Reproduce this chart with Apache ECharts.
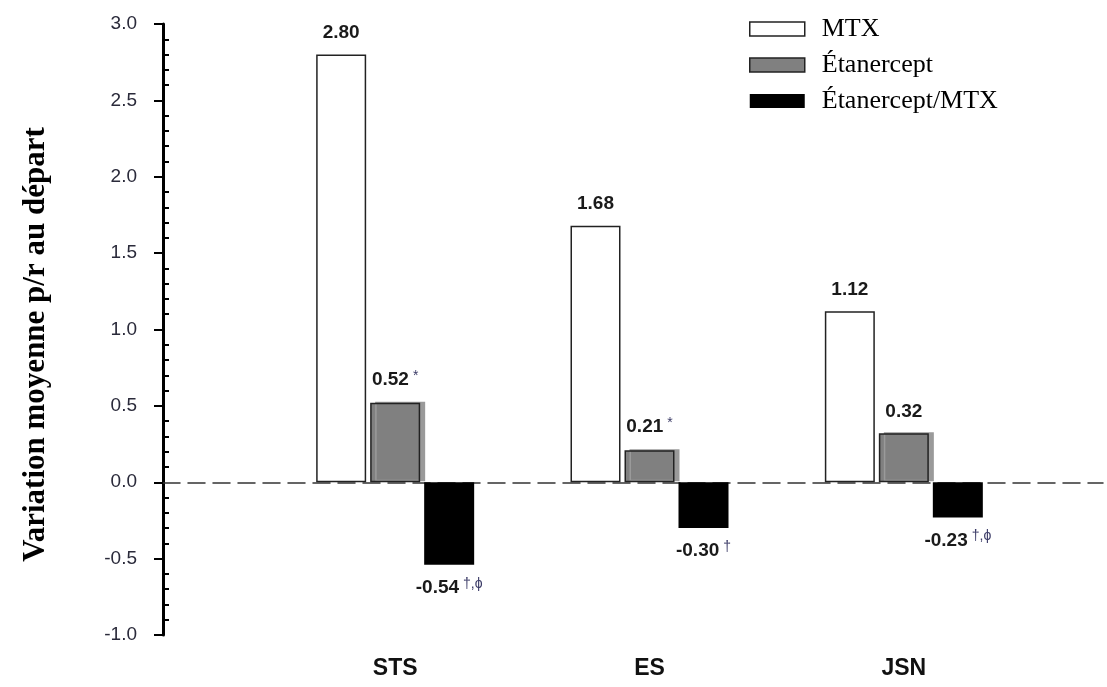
<!DOCTYPE html>
<html lang="fr">
<head>
    <meta charset="UTF-8">
    <title>Variation moyenne</title>
    <script type="text/javascript" src="https://cdn.jsdelivr.net/npm/echarts@6/dist/echarts.min.js"></script>
    <style>
        html, body { margin: 0; padding: 0; background: #fff; }
        #chart { width: 1107px; height: 687px; }
    </style>
</head>
<body>
<div id="chart"></div>
<script type="text/javascript">
    // données
    var categories = ['STS', 'ES', 'JSN'];
    var seriesNames = ['MTX', 'Étanercept', 'Étanercept/MTX'];
    var mtx = [2.80, 1.68, 1.12];
    var etanercept = [0.52, 0.21, 0.32];
    var combo = [-0.54, -0.30, -0.23];
    // exposants affichés après les valeurs
    var etaMarks = ['*', '*', ''];
    var comboMarks = ['†,ϕ', '†', '†,ϕ'];

    var yMin = -1, yMax = 3, yStep = 0.5;

    var labelFont = 'Liberation Sans, Arial, sans-serif';
    var serifFont = 'Liberation Serif, Times New Roman, serif';

    var rich = {
        v: { fontFamily: labelFont, fontWeight: 'bold', fontSize: 19, color: '#1a1a1a' },
        s: { fontFamily: labelFont, fontSize: 14, color: '#3a3a66', verticalAlign: 'top', padding: [0, 0, 8, 4] }
    };

    function fmt(marks) {
        return function (p) {
            var txt = '{v|' + p.value.toFixed(2) + '}';
            if (marks && marks[p.dataIndex]) txt += '{s|' + marks[p.dataIndex] + '}';
            return txt;
        };
    }

    var myChart = echarts.init(document.getElementById('chart'));
    var option = {
        animation: false,
        legend: {
            orient: 'vertical',
            left: 744,
            top: 11,
            itemWidth: 55,
            itemHeight: 14,
            itemGap: 10,
            icon: 'rect',
            textStyle: { fontFamily: serifFont, fontSize: 26, color: '#000', padding: [0, 0, 0, 12] },
            data: [
                { name: seriesNames[0], itemStyle: { color: '#fff', borderColor: '#222', borderWidth: 1.5 } },
                { name: seriesNames[1], itemStyle: { color: '#808080', borderColor: '#222', borderWidth: 1.5 } },
                { name: seriesNames[2], itemStyle: { color: '#000', borderWidth: 0 } }
            ]
        },
        grid: [
            { left: 163, right: 4, top: 24, bottom: 52 },
            { left: 268, right: 76, top: 24, bottom: 52 }
        ],
        xAxis: [
            {
                gridIndex: 0, type: 'value', min: 0, max: 1,
                axisLine: { show: true, onZero: true, lineStyle: { color: '#333', width: 1.5, type: [17, 8] } },
                axisTick: { show: false }, axisLabel: { show: false }, splitLine: { show: false }
            },
            {
                gridIndex: 1, type: 'category', data: categories, position: 'bottom',
                axisLine: { show: false, onZero: false }, axisTick: { show: false },
                axisLabel: { margin: 22, fontFamily: labelFont, fontWeight: 'bold', fontSize: 23, color: '#111' }
            }
        ],
        yAxis: [
            {
                gridIndex: 0, type: 'value', min: yMin, max: yMax, interval: yStep, position: 'left',
                name: 'Variation moyenne p/r au départ', nameLocation: 'middle', nameGap: 112,
                nameTextStyle: { fontFamily: serifFont, fontWeight: 'bold', fontSize: 31, color: '#000',
                    padding: [0, 30, 0, 0] },
                axisLine: { show: true, lineStyle: { color: '#000', width: 3 } },
                axisTick: { show: true, length: 9, lineStyle: { color: '#000', width: 2 } },
                axisLabel: { margin: 26, fontFamily: labelFont, fontSize: 19, color: '#2a2a3a',
                    formatter: function (v) { return v.toFixed(1); } },
                splitLine: { show: false }
            },
            {
                // petites graduations tournées vers l'intérieur
                gridIndex: 0, type: 'value', min: yMin, max: yMax, interval: yStep, position: 'left',
                axisLine: { show: false }, axisLabel: { show: false }, splitLine: { show: false },
                axisTick: { show: false, inside: true },
                minorTick: { show: true, splitNumber: 5, length: 6, lineStyle: { color: '#000', width: 2 } }
            },
            {
                gridIndex: 1, type: 'value', min: yMin, max: yMax, show: false
            }
        ],
        series: [
            {
                name: seriesNames[0], type: 'bar', xAxisIndex: 1, yAxisIndex: 2,
                data: mtx, barWidth: 50, barGap: '8%',
                itemStyle: { color: '#fff', borderColor: '#222', borderWidth: 1.5 },
                label: { show: true, position: 'top', distance: 12, formatter: fmt(null), rich: rich }
            },
            {
                name: seriesNames[1], type: 'bar', xAxisIndex: 1, yAxisIndex: 2,
                data: etanercept, barWidth: 50, barGap: '8%',
                itemStyle: { color: '#808080', borderColor: '#222', borderWidth: 1.5,
                    shadowColor: '#9a9a9a', shadowOffsetX: 5, shadowOffsetY: -1, shadowBlur: 0 },
                label: { show: true, position: 'top', distance: 12, formatter: fmt(etaMarks), rich: rich }
            },
            {
                name: seriesNames[2], type: 'bar', xAxisIndex: 1, yAxisIndex: 2,
                data: combo, barWidth: 50, barGap: '8%',
                itemStyle: { color: '#000' },
                label: { show: true, position: 'bottom', distance: 12, formatter: fmt(comboMarks), rich: rich }
            }
        ]
    };

    myChart.setOption(option);
</script>
</body>
</html>
